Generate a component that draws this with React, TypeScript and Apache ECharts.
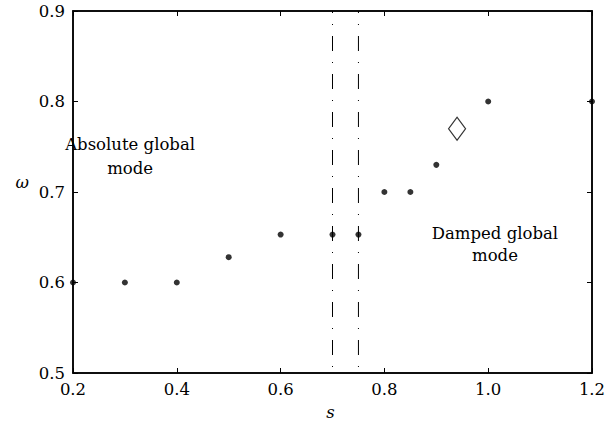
import React, { useEffect, useRef } from "react";
import * as echarts from "echarts";

const sValues = [0.2, 0.3, 0.4, 0.5, 0.6, 0.7, 0.75, 0.8, 0.85, 0.9, 1.0, 1.2];
const omegaValues = [0.6, 0.6, 0.6, 0.628, 0.653, 0.653, 0.653, 0.7, 0.7, 0.73, 0.8, 0.8];
const diamondPoint = [0.94, 0.77];
const boundaries = [0.7, 0.75];
const xTicks = [0.2, 0.4, 0.6, 0.8, 1.0, 1.2];
const yTicks = [0.5, 0.6, 0.7, 0.8, 0.9];
const xRange = [0.2, 1.2];
const yRange = [0.5, 0.9];
const xTickStep = 0.2;
const yTickStep = 0.1;
const annotations = [
  { text: "Absolute global\nmode", at: [0.31, 0.766], lineHeight: 24 },
  { text: "Damped global\nmode", at: [1.013, 0.666], lineHeight: 22 },
];

const FONT = "DejaVu Serif";

function axisLine() {
  return { show: true, onZero: false, lineStyle: { color: "#000", width: 1.5 } };
}
function axisTick() {
  return { show: true, inside: true, length: 5, lineStyle: { color: "#000", width: 1 } };
}

export default function App() {
  const ref = useRef<HTMLDivElement>(null);
  useEffect(() => {
    document.body.style.margin = "0";
    if (!ref.current) return;
    const chart = echarts.init(ref.current, undefined, { renderer: "svg" });
    const xBase = (pos: string) => ({
      type: "value",
      position: pos,
      min: xRange[0],
      max: xRange[1],
      interval: xTickStep,
      axisLine: axisLine(),
      axisTick: axisTick(),
      axisLabel: { show: false },
      splitLine: { show: false },
    });
    const yBase = (pos: string) => ({
      type: "value",
      position: pos,
      min: yRange[0],
      max: yRange[1],
      interval: yTickStep,
      axisLine: axisLine(),
      axisTick: axisTick(),
      axisLabel: { show: false },
      splitLine: { show: false },
    });
    const boundarySeries = boundaries.map((b) => ({
      type: "line",
      data: [
        [b, yRange[1]],
        [b, yRange[0]],
      ],
      symbol: "none",
      silent: true,
      lineStyle: { color: "#000", width: 1, type: [15, 11, 1, 11], dashOffset: 12.7 },
    }));
    chart.setOption({
      animation: false,
      grid: {
        left: 73,
        right: 13,
        top: 11,
        bottom: 50,
        outerBoundsMode: "none",
        show: true,
        borderColor: "#000",
        borderWidth: 1.5,
        backgroundColor: "transparent",
      },
      xAxis: [xBase("bottom"), xBase("top")],
      yAxis: [yBase("left"), yBase("right")],
      series: [
        ...boundarySeries,
        {
          type: "scatter",
          data: sValues.map((s, i) => [s, omegaValues[i]]),
          symbol: "circle",
          symbolSize: 6,
          itemStyle: { color: "#000" },
          clip: false,
          z: 5,
        },
        {
          type: "scatter",
          data: [diamondPoint],
          symbol: "diamond",
          symbolSize: [17, 23],
          itemStyle: { color: "#fff", borderColor: "#000", borderWidth: 1.2 },
          z: 5,
        },
      ],
    });

    const px = (x: number, y: number) => chart.convertToPixel({ gridIndex: 0 }, [x, y]) as number[];
    const txt = (text: string, x: number, y: number, align: string, vAlign: string, extra: any = {}) => ({
      type: "text",
      x,
      y,
      z: 10,
      style: {
        text,
        fill: "#000",
        fontSize: 16.5,
        fontFamily: FONT,
        align,
        verticalAlign: vAlign,
        ...extra,
      },
    });
    const graphics: any[] = [];
    xTicks.forEach((v) => {
      const p = px(v, yRange[0]);
      graphics.push(txt(v.toFixed(1), p[0], p[1] + 16, "center", "middle"));
    });
    yTicks.forEach((v) => {
      const p = px(xRange[0], v);
      graphics.push(txt(v.toFixed(1), p[0] - 8, p[1], "right", "middle"));
    });
    const bottomMid = px((xRange[0] + xRange[1]) / 2, yRange[0]);
    graphics.push(txt("s", bottomMid[0] - 2, bottomMid[1] + 39, "center", "middle", { fontStyle: "italic" }));
    const leftMid = px(xRange[0], 0.71);
    graphics.push(txt("ω", leftMid[0] - 44, leftMid[1], "right", "middle", { fontStyle: "italic" }));
    annotations.forEach((a) => {
      const p = px(a.at[0], a.at[1]);
      graphics.push(txt(a.text, p[0], p[1], "center", "top", { lineHeight: a.lineHeight }));
    });
    chart.setOption({ graphic: graphics });
    return () => chart.dispose();
  }, []);
  return <div ref={ref} style={{ width: 605, height: 423 }} />;
}
